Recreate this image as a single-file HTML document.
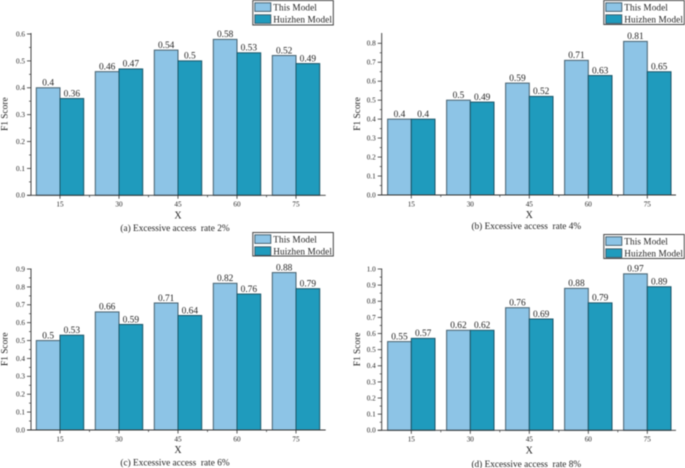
<!DOCTYPE html>
<html>
<head>
<meta charset="utf-8">
<style>
html,body{margin:0;padding:0;background:#fff;width:685px;height:468px;overflow:hidden}
svg{display:block;filter:blur(0.45px)}
text{font-family:"Liberation Serif",serif;fill:#222;white-space:pre}
</style>
</head>
<body>
<svg id="chart" width="685" height="468" viewBox="0 0 685 468" xmlns="http://www.w3.org/2000/svg"></svg>
<script>
const categories = ['15', '30', '45', '60', '75'];
const seriesNames = ['This Model', 'Huizhen Model'];
const thisModelA = [0.4, 0.46, 0.54, 0.58, 0.52];
const huizhenA = [0.36, 0.47, 0.5, 0.53, 0.49];
const thisModelB = [0.4, 0.5, 0.59, 0.71, 0.81];
const huizhenB = [0.4, 0.49, 0.52, 0.63, 0.65];
const thisModelC = [0.5, 0.66, 0.71, 0.82, 0.88];
const huizhenC = [0.53, 0.59, 0.64, 0.76, 0.79];
const thisModelD = [0.55, 0.62, 0.76, 0.88, 0.97];
const huizhenD = [0.57, 0.62, 0.69, 0.79, 0.89];
const ticksA = ['0.0', '0.1', '0.2', '0.3', '0.4', '0.5', '0.6'];
const ticksB = ['0.0', '0.1', '0.2', '0.3', '0.4', '0.5', '0.6', '0.7', '0.8'];
const ticksC = ['0.0', '0.1', '0.2', '0.3', '0.4', '0.5', '0.6', '0.7', '0.8', '0.9'];
const ticksD = ['0.0', '0.1', '0.2', '0.3', '0.4', '0.5', '0.6', '0.7', '0.8', '0.9', '1.0'];
const captionA = '(a) Excessive access  rate 2%';
const captionB = '(b) Excessive access  rate 4%';
const captionC = '(c) Excessive access  rate 6%';
const captionD = '(d) Excessive access  rate 8%';

const NS = 'http://www.w3.org/2000/svg';
const root = document.getElementById('chart');

function mk(parent, tag, attrs, txt) {
  const el = document.createElementNS(NS, tag);
  for (const k in attrs) el.setAttribute(k, attrs[k]);
  if (txt !== undefined) el.textContent = txt;
  parent.appendChild(el);
  return el;
}

function panel(key, lay, a, b, ticks, caption) {
  const g = mk(root, 'g', {});
  
  

  const maxTick = parseFloat(ticks[ticks.length - 1]);
  const y = v => lay.base - (v / maxTick) * (lay.base - lay.topTick);
  const x = i => lay.firstX + i * lay.step;
  const barW = 23.7;
  const axisColor = '#333';

  [a, b].forEach((vals, s) => {
    vals.forEach((v, i) => {
      const bx = s === 0 ? x(i) - barW : x(i);
      const r = mk(g, 'rect', {
        x: bx, y: y(v), width: barW, height: lay.base - y(v),
        fill: s === 0 ? '#8dc4e6' : '#1f9bbd',
        stroke: s === 0 ? '#46606e' : '#1a5568', 'stroke-width': 1
      });
      
      
    });
  });

  [a, b].forEach((vals, s) => {
    vals.forEach((v, i) => {
      const cx = (s === 0 ? x(i) - barW / 2 : x(i) + barW / 2);
      const t = mk(g, 'text', { x: cx, y: y(v) - 2.2, 'font-size': 9.4, 'text-anchor': 'middle' }, String(v));
      
      
    });
  });

  const yAxis = mk(g, 'line', { x1: lay.left, x2: lay.left, y1: lay.axisTop, y2: lay.base, stroke: axisColor, 'stroke-width': 0.9 });
  
  
  const xAxis = mk(g, 'line', { x1: lay.left - 4, x2: lay.right, y1: lay.base, y2: lay.base, stroke: axisColor, 'stroke-width': 0.9 });
  
  

  ticks.forEach((lab, i) => {
    const v = parseFloat(lab);
    mk(g, 'line', { x1: lay.left - 4, x2: lay.left, y1: y(v), y2: y(v), stroke: axisColor, 'stroke-width': 0.8 });
    if (i < ticks.length - 1) {
      const m = y(v + (parseFloat(ticks[1]) - parseFloat(ticks[0])) / 2);
      mk(g, 'line', { x1: lay.left - 2, x2: lay.left, y1: m, y2: m, stroke: axisColor, 'stroke-width': 0.7 });
    }
    const t = mk(g, 'text', { x: lay.left - 6, y: y(v) + 2.4, 'font-size': 7.2, 'text-anchor': 'end' }, lab);
    
    
  });

  categories.forEach((c, i) => {
    mk(g, 'line', { x1: x(i), x2: x(i), y1: lay.base, y2: lay.base + 3.5, stroke: axisColor, 'stroke-width': 0.8 });
    if (i < categories.length - 1) {
      mk(g, 'line', { x1: x(i) + lay.step / 2, x2: x(i) + lay.step / 2, y1: lay.base, y2: lay.base + 2, stroke: axisColor, 'stroke-width': 0.7 });
    }
    const t = mk(g, 'text', { x: x(i), y: lay.base + 11.4, 'font-size': 7.2, 'text-anchor': 'middle' }, c);
    
    
  });

  const xt = mk(g, 'text', { x: x(2), y: lay.base + 23, 'font-size': 10, 'text-anchor': 'middle' }, 'X');
  
  

  const my = (lay.base + lay.axisTop) / 2;
  const yt = mk(g, 'text', { x: lay.titleX, y: my, 'font-size': 9.4, 'text-anchor': 'middle', transform: 'rotate(-90 ' + lay.titleX + ' ' + my + ')' }, 'F1 Score');
  
  

  const cap = mk(g, 'text', { x: x(2) - 3, y: lay.base + lay.capDy, 'font-size': 9.3, 'text-anchor': 'middle' }, caption);
  
  

  const lg = mk(g, 'g', {});
  
  
  mk(lg, 'rect', { x: lay.legX + 0.5, y: lay.legY + 0.5, width: 80.5, height: lay.legH, fill: '#fff', stroke: '#444', 'stroke-width': 1 });
  seriesNames.forEach((n, s) => {
    const ry = lay.legY + 2.8 + s * 12;
    mk(lg, 'rect', { x: lay.legX + 2.5, y: ry, width: 16, height: 8.6, fill: s === 0 ? '#8dc4e6' : '#1f9bbd', stroke: '#3a5563', 'stroke-width': 0.9 });
    const t = mk(lg, 'text', { x: lay.legX + 21, y: ry + 7.6, 'font-size': 9.2, 'letter-spacing': 0.1 }, n);
    
    
  });
}

panel('a', { left: 31, right: 325.7, firstX: 60, step: 59, base: 195.3, topTick: 34, axisTop: 33, legX: 252.3, legY: 0, legH: 24.5, titleX: 7.3, capDy: 35.5 }, thisModelA, huizhenA, ticksA, captionA);
panel('b', { left: 381.7, right: 676, firstX: 411.3, step: 59, base: 195, topTick: 43.3, axisTop: 33, legX: 603.3, legY: 0, legH: 24, titleX: 360, capDy: 34 }, thisModelB, huizhenB, ticksB, captionB);
panel('c', { left: 31, right: 325.7, firstX: 60, step: 59, base: 430, topTick: 269, axisTop: 268.5, legX: 252.3, legY: 232, legH: 23.5, titleX: 7.3, capDy: 35.7 }, thisModelC, huizhenC, ticksC, captionC);
panel('d', { left: 381.7, right: 676, firstX: 411.3, step: 59, base: 430.3, topTick: 269, axisTop: 268.5, legX: 603.3, legY: 234, legH: 24, titleX: 360, capDy: 36.7 }, thisModelD, huizhenD, ticksD, captionD);
</script>
</body>
</html>
